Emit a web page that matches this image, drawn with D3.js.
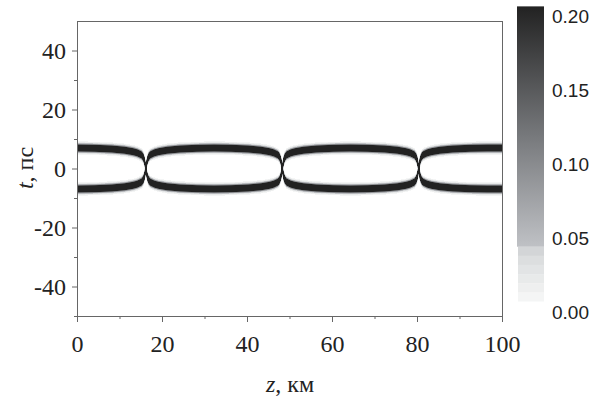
<!DOCTYPE html>
<html>
<head>
<meta charset="utf-8">
<script src="https://cdn.jsdelivr.net/npm/d3@7"></script>
<style>
  body { margin: 0; background: #fff; }
  svg { display: block; }
</style>
</head>
<body>
<div id="chart"></div>
<script>
/* Values */

// z (km) where the two pulses collide
const collisionZ = [16.2, 48.3, 80.4];
// distance from the nearest collision (km) -> half separation of the pulses (ps)
const offsetKm = [0, 0.3, 0.6, 1, 2, 3, 5, 8, 12, 16.1];
const halfSep  = [0, 2.5, 3.8, 4.6, 5.3, 5.7, 6.2, 6.6, 6.85, 6.95];
// pulse peak power and width (ps)
const pulsePeak = 1.0;
const pulseWidth = 0.72;

// tick labels
const xTicks = [0, 20, 40, 60, 80, 100];
const xMinor = [10, 30, 50, 70, 90];
const yTicks = [-40, -20, 0, 20, 40];
const yMinor = [-50, -30, -10, 10, 30];
const cbTicks = [0, 0.05, 0.10, 0.15, 0.20];

// colour map: banded lower part, smooth upper part
const bandLevels = [0.0074, 0.0136, 0.0197, 0.0259, 0.0321, 0.0382, 0.0444];
const bandColors = ["#f4f5f5", "#eeefef", "#e8eaea", "#e2e4e5", "#dcdedf", "#d3d5d7"];
const rampLevels = [0.0444, 0.12, 0.2067];
const rampColors = ["#bfc1c5", "#76787b", "#222222"];

/* Layout */
const width = 606, height = 400;
const plot = {left: 77, right: 502, top: 21, bottom: 316};

const svg = d3.select("#chart")
  .append("svg")
    .attr("width", width)
    .attr("height", height)
    .attr("viewBox", [0, 0, width, height]);

const xScale = d3.scaleLinear().domain([0, 100]).range([plot.left, plot.right]);
const yScale = d3.scaleLinear().domain([-50, 50]).range([plot.bottom, plot.top]);

// half separation as a function of distance to collision
const sepScale = d3.scaleLinear().domain(offsetKm).range(halfSep).clamp(true);

const ramp = d3.scaleLinear().domain(rampLevels).range(rampColors).clamp(true);
const bandScale = d3.scaleThreshold().domain(bandLevels).range(["#ffffff", ...bandColors, null]);

const colorOf = v => {
  if (v >= bandLevels[bandLevels.length - 1]) return ramp(v);
  return bandScale(v);
};

const sech2 = x => { const c = Math.cosh(x); return 1 / (c * c); };

/* Heat map drawn into a canvas, then placed in the SVG */
const imgW = plot.right - plot.left - 1, imgH = plot.bottom - plot.top - 1;
const canvas = document.createElement("canvas");
canvas.width = imgW; canvas.height = imgH;
const ctx = canvas.getContext("2d");
const img = ctx.createImageData(imgW, imgH);
const sub = d3.range(8).map(k => (k + 0.5) / 8);   // sub-columns inside one pixel

for (let i = 0; i < imgW; i++) {
  const seps = sub.map(s => {
    const z = xScale.invert(plot.left + 1 + i + s);
    return sepScale(d3.min(collisionZ, c => Math.abs(z - c)));
  });
  for (let j = 0; j < imgH; j++) {
    const t = yScale.invert(plot.top + 1 + j + 0.5);
    const v = d3.mean(seps, T =>
      pulsePeak * (sech2((t - T) / pulseWidth) + sech2((t + T) / pulseWidth)));
    const c = d3.rgb(colorOf(v));
    const k = (j * imgW + i) * 4;
    img.data[k] = c.r; img.data[k + 1] = c.g; img.data[k + 2] = c.b; img.data[k + 3] = 255;
  }
}
ctx.putImageData(img, 0, 0);

svg.append("image")
  .attr("x", plot.left + 1)
  .attr("y", plot.top + 1)
  .attr("width", imgW)
  .attr("height", imgH)
  .attr("href", canvas.toDataURL());

/* Frame */
svg.append("rect")
  .attr("x", plot.left + 0.5)
  .attr("y", plot.top + 0.5)
  .attr("width", plot.right - plot.left)
  .attr("height", plot.bottom - plot.top)
  .attr("fill", "none")
  .attr("stroke", "#666");

/* Axes */
const serif = "'Liberation Serif', 'Times New Roman', serif";

svg.append("g")
  .attr("transform", `translate(0, ${plot.bottom})`)
  .call(d3.axisBottom(xScale).tickValues(xTicks).tickSize(6).tickPadding(13)
    .tickFormat(d => String(d)));
svg.append("g")
  .attr("transform", `translate(0, ${plot.bottom})`)
  .call(d3.axisBottom(xScale).tickValues(xMinor).tickSize(3).tickFormat(""));

svg.append("g")
  .attr("transform", `translate(${plot.left}, 0)`)
  .call(d3.axisLeft(yScale).tickValues(yTicks).tickSize(5).tickPadding(6)
    .tickFormat(d => String(d)));
svg.append("g")
  .attr("transform", `translate(${plot.left}, 0)`)
  .call(d3.axisLeft(yScale).tickValues(yMinor).tickSize(3).tickFormat(""));

svg.selectAll(".domain").remove();
svg.selectAll(".tick line").attr("stroke", "#666");
svg.selectAll(".tick text")
  .attr("fill", "#222")
  .style("font-family", serif)
  .style("font-size", "24px");

/* Axis titles */
const xTitle = svg.append("text")
  .attr("x", 290)
  .attr("y", 392)
  .attr("text-anchor", "middle")
  .attr("fill", "#222")
  .style("font-family", serif)
  .style("font-size", "24px");
xTitle.append("tspan").style("font-style", "italic").text("z");
xTitle.append("tspan").text(", км");

const yTitle = svg.append("text")
  .attr("transform", "translate(33, 168) rotate(-90)")
  .attr("text-anchor", "middle")
  .attr("fill", "#222")
  .style("font-family", serif)
  .style("font-size", "24px");
yTitle.append("tspan").style("font-style", "italic").text("t");
yTitle.append("tspan").text(", пс");

/* Colour bar */
const cbX = 517, cbW = 27;
const cbY = d3.scaleLinear().domain([0, 0.2]).range([312.5, 16.3]);

const defs = svg.append("defs");
const grad = defs.append("linearGradient")
  .attr("id", "ramp")
  .attr("x1", 0).attr("x2", 0).attr("y1", 1).attr("y2", 0);
grad.selectAll("stop")
  .data(rampLevels)
  .join("stop")
    .attr("offset", d => (d - rampLevels[0]) / (rampLevels[rampLevels.length - 1] - rampLevels[0]))
    .attr("stop-color", (d, i) => rampColors[i]);

svg.append("g")
  .selectAll("rect")
  .data(bandColors)
  .join("rect")
    .attr("x", cbX + 1)
    .attr("y", (d, i) => cbY(bandLevels[i + 1]))
    .attr("width", cbW - 1)
    .attr("height", (d, i) => cbY(bandLevels[i]) - cbY(bandLevels[i + 1]))
    .attr("fill", d => d);

svg.append("rect")
  .attr("x", cbX)
  .attr("y", cbY(rampLevels[rampLevels.length - 1]))
  .attr("width", cbW)
  .attr("height", cbY(rampLevels[0]) - cbY(rampLevels[rampLevels.length - 1]))
  .attr("fill", "url(#ramp)");

svg.append("g")
  .selectAll("text")
  .data(cbTicks)
  .join("text")
    .attr("x", 552)
    .attr("y", d => cbY(d))
    .attr("dy", "0.36em")
    .attr("fill", "#222")
    .style("font-family", "'Liberation Sans', Arial, sans-serif")
    .style("font-size", "19px")
    .text(d => d3.format(".2f")(d));
</script>
</body>
</html>
